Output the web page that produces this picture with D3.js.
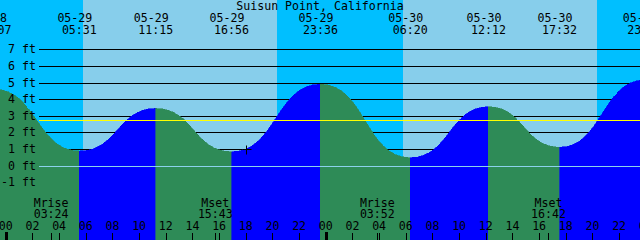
<!DOCTYPE html>
<html>
<head>
<meta charset="utf-8">
<script src="https://cdn.jsdelivr.net/npm/d3@7"></script>
<style>
  html, body { margin: 0; padding: 0; background: #00BFFF; }
  svg { display: block; }
  text { font-family: "DejaVu Sans Mono", monospace; font-size: 11.6px; fill: #000; }
</style>
</head>
<body>
<svg id="canvas"></svg>
<script>
const width = 640;
const height = 240;
const title = "Suisun Point, California";

/* Tide highs and lows (local time, feet) */
const tideTimes = ["05-28 23:07", "05-29 05:31", "05-29 11:15", "05-29 16:56", "05-29 23:36",
                   "05-30 06:20", "05-30 12:12", "05-30 17:32", "05-30 23:55"];
const tideHeights = [4.6, 0.87, 3.44, 0.83, 4.9, 0.47, 3.54, 1.1, 5.15];

/* Sun and moon */
const sunrises = ["05-29 05:46", "05-30 05:46"];
const sunsets = ["05-29 20:20", "05-30 20:20"];
const moonLabels = ["Mrise", "Mset", "Mrise", "Mset"];
const moonTimes = ["05-29 03:24", "05-29 15:43", "05-30 03:52", "05-30 16:42"];

/* Axis levels */
const footLevels = [-1, 0, 1, 2, 3, 4, 5, 6, 7];
const meanLevel = 2.74;
const nowTime = "05-29 18:01";
const chartStart = "05-28 23:34";
const chartEnd = "05-30 23:34";

const parse = s => {
    const [md, hm] = s.split(" ");
    const [mo, dy] = md.split("-").map(Number);
    const [hh, mm] = hm.split(":").map(Number);
    return new Date(Date.UTC(2023, mo - 1, dy, hh, mm));
};

const x = d3.scaleUtc()
    .domain([parse(chartStart), parse(chartEnd)])
    .range([0, width]);

const y = d3.scaleLinear()
    .domain([0, 7])
    .range([165.5, 49.3]);

const svg = d3.select("#canvas")
    .attr("width", width)
    .attr("height", height);

/* Sky: night everywhere, day bands on top */
svg.append("rect")
    .attr("width", width)
    .attr("height", height)
    .attr("fill", "#00BFFF");

svg.append("g")
    .selectAll("rect")
    .data(d3.zip(sunrises, sunsets))
    .enter()
    .append("rect")
    .attr("x", d => Math.round(x(parse(d[0]))))
    .attr("y", 0)
    .attr("width", d => Math.round(x(parse(d[1]))) - Math.round(x(parse(d[0]))))
    .attr("height", height)
    .attr("fill", "#87CEEB");

/* Foot lines behind the water */
svg.append("g")
    .selectAll("line")
    .data(footLevels.filter(d => d !== 0))
    .enter()
    .append("line")
    .attr("x1", 39)
    .attr("x2", width)
    .attr("y1", d => Math.round(y(d)) + 0.5)
    .attr("y2", d => Math.round(y(d)) + 0.5)
    .attr("stroke", "#000")
    .attr("stroke-width", 1);

/* Water: one area per rise or fall */
const tide = tideTimes.map((t, i) => ({ t: parse(t), h: tideHeights[i] }));
const segments = d3.pairs(tide);

const area = d3.area()
    .x(d => x(d.t))
    .y0(height)
    .y1(d => y(d.h))
    .curve(d3.curveBumpX);

svg.append("g")
    .selectAll("path")
    .data(segments)
    .enter()
    .append("path")
    .attr("d", d => area(d))
    .attr("fill", d => d[1].h > d[0].h ? "#0000FF" : "#2E8B57")
    .attr("stroke", d => d[1].h > d[0].h ? "#0000FF" : "#2E8B57")
    .attr("stroke-width", 0.6)
    .attr("shape-rendering", "crispEdges");

/* Datum and mean level */
svg.append("line")
    .attr("x1", 39).attr("x2", width)
    .attr("y1", Math.round(y(0)) + 0.5).attr("y2", Math.round(y(0)) + 0.5)
    .attr("stroke", "#8CD2EC");

svg.append("line")
    .attr("x1", 39).attr("x2", width)
    .attr("y1", Math.round(y(meanLevel)) + 0.5).attr("y2", Math.round(y(meanLevel)) + 0.5)
    .attr("stroke", "#FFFF00");

/* Foot labels */
svg.append("g")
    .selectAll("text")
    .data(footLevels)
    .enter()
    .append("text")
    .attr("x", 36)
    .attr("y", d => y(d) + 4)
    .attr("text-anchor", "end")
    .text(d => d + " ft");

/* Title and event labels */
svg.append("text")
    .attr("x", width / 2)
    .attr("y", 10)
    .attr("text-anchor", "middle")
    .text(title);

const fmtDate = d3.utcFormat("%m-%d");
const fmtTime = d3.utcFormat("%H:%M");

const events = svg.append("g")
    .selectAll("g")
    .data(tide)
    .enter()
    .append("g");

events.append("text")
    .attr("x", d => x(d.t) - 4.5)
    .attr("y", 22)
    .attr("text-anchor", "middle")
    .text(d => fmtDate(d.t));

events.append("text")
    .attr("x", d => x(d.t))
    .attr("y", 34)
    .attr("text-anchor", "middle")
    .text(d => fmtTime(d.t));

/* Moon labels */
const moon = svg.append("g")
    .selectAll("g")
    .data(d3.zip(moonLabels, moonTimes))
    .enter()
    .append("g");

moon.append("text")
    .attr("x", d => x(parse(d[1])))
    .attr("y", 206.5)
    .attr("text-anchor", "middle")
    .text(d => d[0]);

moon.append("text")
    .attr("x", d => x(parse(d[1])))
    .attr("y", 218)
    .attr("text-anchor", "middle")
    .text(d => fmtTime(parse(d[1])));

/* Hour axis */
const hours = d3.utcHour.every(2).range(parse(chartStart), d3.utcHour.offset(parse(chartEnd), 2));

svg.append("g")
    .selectAll("text")
    .data(hours)
    .enter()
    .append("text")
    .attr("x", d => x(d))
    .attr("y", 230)
    .attr("text-anchor", "middle")
    .text(d => d3.utcFormat("%H")(d));

svg.append("g")
    .selectAll("rect")
    .data(hours.concat(moonTimes.map(parse)))
    .enter()
    .append("rect")
    .attr("x", d => d.getUTCHours() === 0 && d.getUTCMinutes() === 0 ? Math.round(x(d)) - 1 : Math.round(x(d)))
    .attr("y", d => d.getUTCHours() === 0 && d.getUTCMinutes() === 0 ? 232 : 233)
    .attr("width", d => d.getUTCHours() === 0 && d.getUTCMinutes() === 0 ? 3 : 1)
    .attr("height", d => d.getUTCHours() === 0 && d.getUTCMinutes() === 0 ? 8 : 7)
    .attr("fill", "#000");

/* Current time mark on the curve */
const nowT = parse(nowTime);
const seg = segments.find(s => s[0].t <= nowT && nowT <= s[1].t);
const pathNode = svg.append("path")
    .attr("d", d3.line().x(d => x(d.t)).y(d => y(d.h)).curve(d3.curveBumpX)(seg))
    .attr("fill", "none")
    .attr("stroke", "none")
    .node();
let lo = 0, hi = pathNode.getTotalLength();
for (let i = 0; i < 30; i++) {
    const mid = (lo + hi) / 2;
    if (pathNode.getPointAtLength(mid).x < x(nowT)) lo = mid; else hi = mid;
}
const nowPt = pathNode.getPointAtLength(lo);
const cx = Math.round(nowPt.x) + 0.5;
const cy = Math.round(nowPt.y) + 0.5;
svg.append("path")
    .attr("d", `M${cx - 4},${cy}H${cx + 5}M${cx},${cy - 4}V${cy + 5}`)
    .attr("stroke", "#000")
    .attr("fill", "none");
</script>
</body>
</html>
